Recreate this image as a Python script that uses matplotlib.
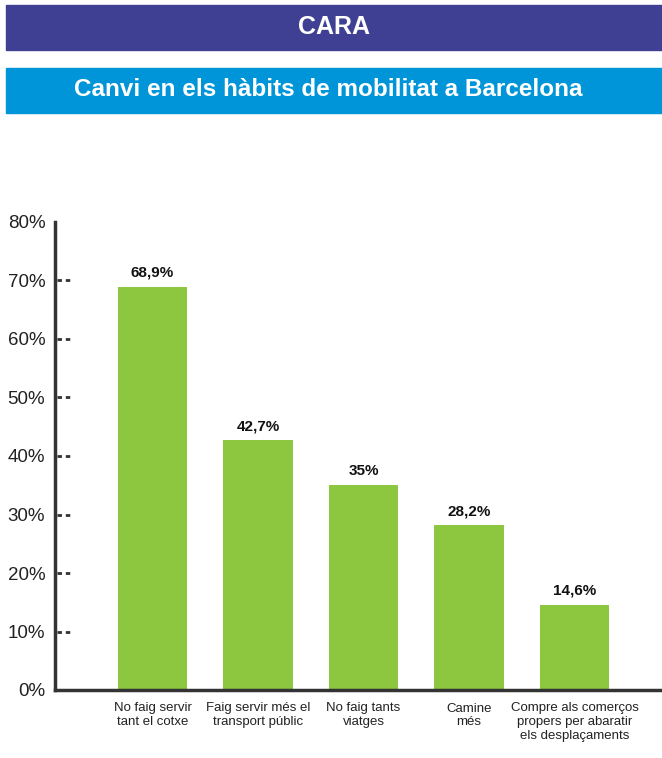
import matplotlib.pyplot as plt
from matplotlib.patches import Rectangle

categories = ["No faig servir\ntant el cotxe", "Faig servir més el\ntransport públic",
              "No faig tants\nviatges", "Camine\nmés",
              "Compre als comerços\npropers per abaratir\nels desplaçaments"]
values = [68.9, 42.7, 35, 28.2, 14.6]
value_labels = ["68,9%", "42,7%", "35%", "28,2%", "14,6%"]
yticks = [0, 10, 20, 30, 40, 50, 60, 70, 80]

narrow = ['Liberation Sans Narrow', 'Liberation Sans', 'DejaVu Sans']

fig = plt.figure(figsize=(6.62, 7.58), dpi=100)

# banners
W, H = 662, 758
fig.patches.append(Rectangle((6 / W, 1 - 50 / H), 656 / W, 45 / H, transform=fig.transFigure,
                             color='#3f3f94', zorder=0))
fig.text(334 / W, 1 - 27 / H, "CARA", color='white', fontsize=18, fontweight='bold',
         family=narrow, ha='center', va='center')
fig.patches.append(Rectangle((6 / W, 1 - 113 / H), 656 / W, 45 / H, transform=fig.transFigure,
                             color='#0095d9', zorder=0))
fig.text(328 / W, 1 - 90 / H, "Canvi en els hàbits de mobilitat a Barcelona", color='white',
         fontsize=17.5, fontweight='bold', family=narrow, ha='center', va='center')

ax = fig.add_axes([55 / W, 1 - 690 / H, 605 / W, 468 / H])
x = range(len(values))
ax.bar(x, values, width=0.655, color='#8dc63f')
ax.set_xlim(-0.924, 4.81)
ax.set_ylim(0, 80)

for i, v in enumerate(values):
    ax.text(i, v + 1.2, value_labels[i], ha='center', va='bottom', fontsize=11,
            fontweight='bold', family=['Liberation Sans', 'DejaVu Sans'], color='#111111')

# dashed ticks on the inside
for t in yticks[1:-1]:
    ax.plot([0.004, 0.027], [t, t], transform=ax.get_yaxis_transform(), color='#333333',
            lw=2, linestyle=(0, (1.6, 1.4)), solid_capstyle='butt', clip_on=False)

ax.set_yticks(yticks)
ax.set_yticklabels([f"{t}%" for t in yticks], family=narrow, fontsize=13.5, color='#222222')
ax.tick_params(axis='y', length=0, pad=7)
ax.set_xticks(list(x))
ax.set_xticklabels(categories, family=narrow, fontsize=9.5, color='#222222', linespacing=1.2)
ax.tick_params(axis='x', length=0, pad=9)

for s in ['top', 'right']:
    ax.spines[s].set_visible(False)
for s in ['left', 'bottom']:
    ax.spines[s].set_color('#333333')
    ax.spines[s].set_linewidth(2.5)

fig.savefig('out.png', dpi=100)
